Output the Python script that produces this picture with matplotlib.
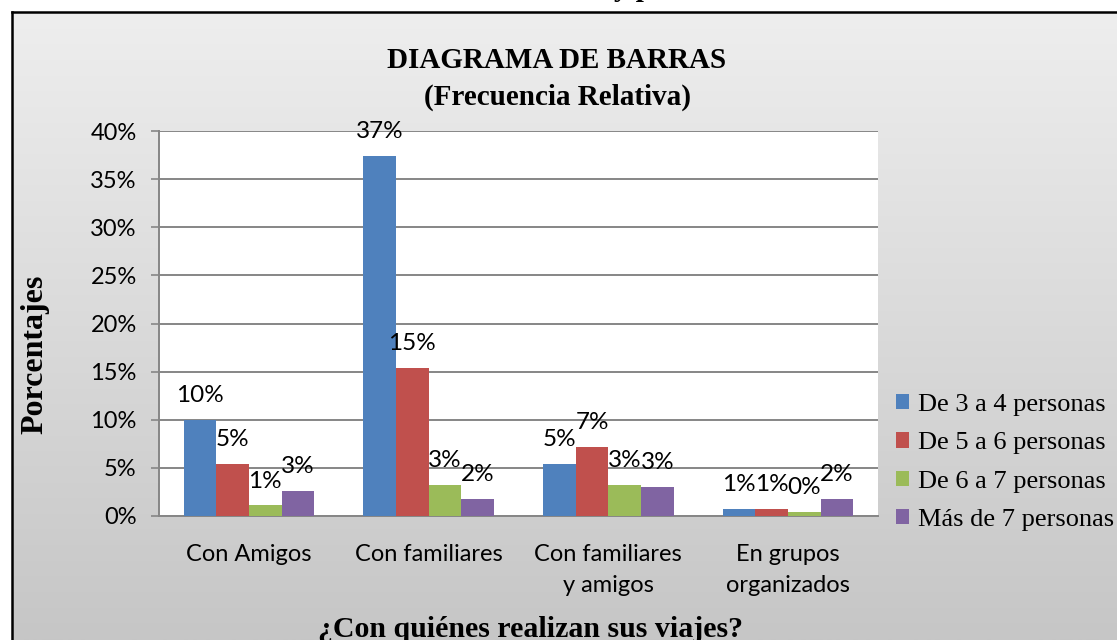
import numpy as np
import matplotlib
matplotlib.use("Agg")
import matplotlib.pyplot as plt
from matplotlib.lines import Line2D

# ---- data ----
categories = ["Con Amigos", "Con familiares", "Con familiares\ny amigos", "En grupos\norganizados"]
series_names = ["De 3 a 4 personas", "De 5 a 6 personas", "De 6 a 7 personas", "Más de 7 personas"]
de_3_a_4 = [10.0, 37.4, 5.4, 0.75]
de_5_a_6 = [5.4, 15.4, 7.2, 0.75]
de_6_a_7 = [1.1, 3.2, 3.2, 0.45]
mas_de_7 = [2.6, 1.8, 3.0, 1.8]
y_ticks = [0, 5, 10, 15, 20, 25, 30, 35, 40]
y_tick_labels = ["0%", "5%", "10%", "15%", "20%", "25%", "30%", "35%", "40%"]

series = [de_3_a_4, de_5_a_6, de_6_a_7, mas_de_7]
colors = ["#4F81BD", "#C0504D", "#9BBB59", "#8064A2"]

W, H = 1117, 640
fig = plt.figure(figsize=(W / 100, H / 100), dpi=100, facecolor="white")

def fx(px):
    return px / W

def fy(py):
    return 1 - py / H

# gradient background of chart area
bg = fig.add_axes([fx(12), 0, 1 - fx(12), fy(12)], zorder=0)
grad = np.linspace(238, 198, 256).reshape(-1, 1) / 255.0
grad_img = np.dstack([grad, grad, grad])
bg.imshow(grad_img, aspect="auto", extent=[0, 1, 0, 1], origin="upper")
bg.set_axis_off()

# border lines
fig.add_artist(Line2D([fx(12), fx(12)], [0, fy(12)], color="black", lw=1.8, transform=fig.transFigure, zorder=5))
fig.add_artist(Line2D([fx(12), 1], [fy(12), fy(12)], color="black", lw=1.8, transform=fig.transFigure, zorder=5))

# partial heading cut off at top
fig.text(fx(633), 1 + 4 / H, "y p", ha="center", va="baseline", fontsize=21,
         fontweight="bold", family="Liberation Serif", zorder=6)

ax = fig.add_axes([fx(159), fy(516), fx(878 - 159), (516 - 131) / H], zorder=2)
ax.set_facecolor("white")

x = np.arange(len(categories))
w = 1 / 5.5
offsets = [-1.5, -0.5, 0.5, 1.5]
handles = []
for vals, off, c, name in zip(series, offsets, colors, series_names):
    bars = ax.bar(x + off * w, vals, width=w, color=c, label=name, zorder=3)
    handles.append(bars)
    for xi, v in zip(x, vals):
        ax.annotate(f"{v:.0f}%", (xi + off * w, v), xytext=(0, 17.5), textcoords="offset points",
                    ha="center", va="center", fontsize=17.5, family="Lato", zorder=4,
                    annotation_clip=False)

ax.set_xlim(-0.5, 3.5)
ax.set_ylim(0, 40)
ax.set_yticks(y_ticks)
ax.set_yticklabels(y_tick_labels, fontsize=17, family="Lato")
ax.set_xticks(x)
ax.set_xticklabels(categories, fontsize=17, family="Lato", linespacing=1.6, va="top")
ax.tick_params(axis="x", length=0, pad=20)
ax.tick_params(axis="y", length=6, width=1.2, color="#868686", pad=10)
ax.grid(axis="y", color="#868686", lw=1.4, zorder=1)
ax.set_axisbelow(True)
for s in ["top", "right"]:
    ax.spines[s].set_visible(False)
for s in ["left", "bottom"]:
    ax.spines[s].set_color("#868686")
    ax.spines[s].set_linewidth(1.4)

# titles
fig.text(fx(557), fy(60), "DIAGRAMA DE BARRAS", ha="center", va="center", fontsize=21,
         fontweight="bold", family="Liberation Serif")
fig.text(fx(557), fy(97), "(Frecuencia Relativa)", ha="center", va="center", fontsize=21,
         fontweight="bold", family="Liberation Serif")
fig.text(fx(35), fy(354), "Porcentajes", ha="center", va="center", rotation=90, fontsize=23,
         fontweight="bold", family="Liberation Serif")
fig.text(fx(530), fy(637), "¿Con quiénes realizan sus viajes?", ha="center", va="baseline",
         fontsize=21.5, fontweight="bold", family="Liberation Serif")

leg = fig.legend(handles, series_names, loc="upper left", bbox_to_anchor=(fx(896), fy(394)),
                 bbox_transform=fig.transFigure, frameon=False,
                 prop={"family": "Liberation Serif", "size": 19},
                 handlelength=0.5, handleheight=0.5, handletextpad=0.35,
                 labelspacing=0.62, borderpad=0, borderaxespad=0)
leg.set_zorder(10)

fig.savefig("out.png", dpi=100)
